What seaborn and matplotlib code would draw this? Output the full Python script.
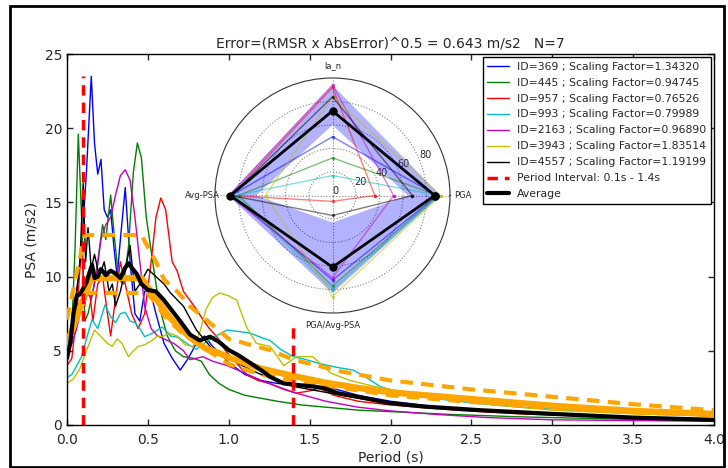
import numpy as np
import matplotlib
matplotlib.use("Agg")
import matplotlib.pyplot as plt
import seaborn as sns
from matplotlib.patches import Rectangle

# ---------------- data ----------------
rec_ids = ["369", "445", "957", "993", "2163", "3943", "4557"]
rec_factors = ["1.34320", "0.94745", "0.76526", "0.79989", "0.96890", "1.83514", "1.19199"]
rec_colors = ["#0000ff", "#008000", "#ff0000", "#00bfbf", "#bf00bf", "#bfbf00", "#000000"]

t_369 = [0, 0.03, 0.06, 0.09, 0.12, 0.15, 0.17, 0.19, 0.21, 0.23, 0.25, 0.27, 0.29, 0.31, 0.33,
         0.36, 0.39, 0.42, 0.45, 0.48, 0.51, 0.55, 0.6, 0.65, 0.7, 0.75, 0.8, 0.85, 0.9, 0.95,
         1.0, 1.1, 1.2, 1.3, 1.4, 1.5, 1.6, 1.7, 1.8, 2.0, 2.3, 2.6, 3.0, 3.5, 4.0]
psa_369 = [5.8, 6.5, 9.0, 12.0, 17.0, 23.5, 19.0, 16.9, 17.9, 14.5, 14.0, 14.5, 12.0, 10.0, 12.5,
           16.0, 11.0, 7.5, 7.0, 9.0, 9.2, 7.5, 5.5, 4.5, 3.7, 4.5, 5.5, 6.0, 5.3, 4.8,
           4.2, 3.4, 3.0, 2.8, 2.7, 2.6, 2.6, 2.3, 2.0, 1.6, 1.2, 0.9, 0.7, 0.5, 0.4]

t_445 = [0, 0.03, 0.05, 0.07, 0.09, 0.11, 0.13, 0.16, 0.19, 0.22, 0.24, 0.27, 0.29, 0.32, 0.35,
         0.38, 0.41, 0.435, 0.46, 0.49, 0.53, 0.57, 0.62, 0.67, 0.72, 0.78, 0.83, 0.88, 0.94, 1.0,
         1.1, 1.2, 1.3, 1.45, 1.6, 1.8, 2.0, 2.4, 2.8, 3.2, 3.6, 4.0]
psa_445 = [5.0, 6.5, 12.0, 19.6, 14.0, 7.0, 7.5, 9.0, 11.0, 13.5, 12.5, 15.5, 13.0, 9.8, 9.5,
           12.0, 17.0, 19.0, 18.0, 14.0, 11.0, 8.0, 6.0, 5.0, 4.6, 4.5, 4.3, 3.4, 2.8, 2.4,
           2.0, 1.8, 1.6, 1.35, 1.2, 1.0, 0.9, 0.7, 0.55, 0.45, 0.35, 0.3]

t_957 = [0, 0.03, 0.06, 0.09, 0.11, 0.13, 0.16, 0.19, 0.22, 0.25, 0.27, 0.3, 0.33, 0.36, 0.4,
         0.44, 0.48, 0.52, 0.55, 0.58, 0.61, 0.65, 0.68, 0.72, 0.76, 0.8, 0.84, 0.88, 0.93, 0.98,
         1.03, 1.11, 1.18, 1.25, 1.34, 1.42, 1.5, 1.56, 1.65, 1.8, 2.0, 2.4, 2.8, 3.2, 3.6, 4.0]
psa_957 = [4.0, 4.5, 7.5, 12.0, 8.0, 10.0, 7.0, 9.5, 10.0, 7.5, 6.0, 8.5, 11.0, 9.5, 7.5,
           6.5, 7.5, 11.0, 14.0, 15.3, 14.5, 11.0, 10.4, 9.0, 8.4, 7.8, 7.1, 6.5, 5.9, 5.0,
           4.4, 3.4, 3.0, 2.8, 2.4, 2.15, 2.3, 2.5, 2.0, 1.6, 1.35, 1.0, 0.75, 0.6, 0.5, 0.4]

t_993 = [0, 0.03, 0.06, 0.09, 0.12, 0.155, 0.19, 0.235, 0.27, 0.3, 0.33, 0.36, 0.39, 0.42, 0.45,
         0.48, 0.53, 0.59, 0.64, 0.69, 0.74, 0.8, 0.86, 0.92, 0.99, 1.06, 1.13, 1.2, 1.255, 1.32,
         1.4, 1.48, 1.56, 1.66, 1.77, 1.85, 1.935, 2.05, 2.18, 2.5, 2.8, 3.2, 3.6, 4.0]
psa_993 = [3.2, 3.4, 4.0, 4.6, 5.8, 7.1, 6.5, 8.1, 7.3, 6.9, 7.5, 7.6, 7.0, 6.9, 6.5,
           5.95, 6.2, 6.6, 6.0, 5.9, 5.5, 5.1, 5.6, 6.0, 6.4, 6.3, 6.2, 5.9, 5.7, 5.1,
           4.6, 4.4, 4.15, 3.9, 3.7, 3.2, 2.6, 2.2, 1.9, 1.5, 1.2, 0.95, 0.75, 0.6]

t_2163 = [0, 0.03, 0.06, 0.09, 0.12, 0.15, 0.18, 0.21, 0.24, 0.27, 0.3, 0.33, 0.36, 0.39, 0.42,
          0.45, 0.48, 0.52, 0.56, 0.6, 0.66, 0.72, 0.76, 0.8, 0.84, 0.9, 0.99, 1.1, 1.2, 1.3,
          1.4, 1.5, 1.6, 1.8, 2.0, 2.3, 2.6, 3.0, 3.5, 4.0]
psa_2163 = [5.0, 5.5, 6.5, 8.0, 9.0, 8.5, 10.0, 12.5, 13.5, 14.0, 15.5, 16.8, 17.2, 16.5, 14.0,
            11.0, 8.0, 6.5, 6.0, 5.8, 5.5, 5.0, 4.4, 4.5, 4.6, 4.3, 4.0, 3.5, 3.0, 2.6,
            2.2, 1.9, 1.6, 1.2, 0.95, 0.7, 0.5, 0.35, 0.3, 0.25]

t_3943 = [0, 0.04, 0.08, 0.12, 0.17, 0.21, 0.25, 0.28, 0.31, 0.34, 0.38, 0.41, 0.44, 0.48, 0.525,
          0.56, 0.59, 0.63, 0.68, 0.73, 0.78, 0.82, 0.86, 0.9, 0.945, 1.0, 1.05, 1.11, 1.17, 1.255,
          1.34, 1.42, 1.52, 1.63, 1.75, 1.9, 2.05, 2.3, 2.6, 3.0, 3.5, 4.0]
psa_3943 = [2.8, 3.1, 3.8, 5.0, 6.4, 5.95, 5.5, 5.3, 5.8, 5.5, 4.6, 5.0, 5.3, 5.4, 5.7,
            6.0, 5.95, 6.2, 6.0, 5.4, 5.3, 6.2, 7.8, 8.6, 8.9, 8.7, 8.4, 6.6, 5.5, 5.3,
            4.0, 4.6, 4.6, 3.5, 3.0, 2.6, 2.3, 1.8, 1.4, 1.0, 0.75, 0.6]

t_4557 = [0, 0.03, 0.06, 0.08, 0.1, 0.115, 0.13, 0.15, 0.17, 0.2, 0.23, 0.26, 0.28, 0.3, 0.33,
          0.36, 0.39, 0.42, 0.45, 0.5, 0.55, 0.6, 0.64, 0.72, 0.8, 0.9, 1.0, 1.1, 1.2, 1.3,
          1.4, 1.5, 1.6, 1.8, 2.0, 2.3, 2.6, 3.0, 3.5, 4.0]
psa_4557 = [4.8, 6.5, 9.0, 11.0, 16.3, 11.0, 13.3, 10.5, 11.5, 10.0, 11.0, 9.0, 9.5, 8.0, 9.0,
            10.5, 12.1, 9.0, 9.5, 10.5, 10.0, 9.5, 8.9, 8.0, 6.4, 5.1, 4.5, 3.9, 3.4, 3.0,
            2.6, 2.4, 2.2, 1.8, 1.5, 1.2, 0.95, 0.7, 0.5, 0.4]

t_avg = [0, 0.02, 0.04, 0.06, 0.08, 0.1, 0.12, 0.14, 0.155, 0.17, 0.19, 0.21, 0.24, 0.27, 0.3,
         0.33, 0.36, 0.38, 0.4, 0.43, 0.46, 0.5, 0.55, 0.6, 0.65, 0.7, 0.76, 0.82, 0.885, 0.94,
         1.0, 1.06, 1.13, 1.2, 1.255, 1.34, 1.42, 1.52, 1.6, 1.67, 1.8, 1.98, 2.2, 2.55, 3.0,
         3.5, 4.0]
psa_avg = [4.5, 5.5, 7.5, 8.7, 8.8, 9.2, 9.6, 10.3, 10.8, 9.9, 10.0, 10.5, 10.1, 10.4, 10.2,
           9.9, 10.6, 10.9, 10.6, 10.2, 9.5, 9.1, 9.0, 8.4, 7.7, 7.0, 6.1, 5.7, 5.95, 5.6,
           5.05, 4.7, 4.2, 3.7, 3.25, 2.8, 2.7, 2.6, 2.45, 2.15, 1.9, 1.5, 1.25, 1.0, 0.75,
           0.5, 0.35]

# target spectrum and its tolerance band
t_target = [0, 0.15, 0.46, 0.55, 0.64, 0.75, 0.85, 0.95, 1.0, 1.2, 1.4, 1.6, 1.8, 2.0, 2.5, 3.0, 3.5, 4.0]
psa_target = [5.5, 9.9, 9.9, 8.5, 7.2, 6.0, 5.2, 4.8, 4.55, 3.8, 3.3, 2.85, 2.5, 2.2, 1.75, 1.3, 0.95, 0.75]
t_upper = [0, 0.11, 0.46, 0.55, 0.6, 0.69, 0.76, 0.86, 1.0, 1.255, 1.4, 1.7, 2.0, 2.5, 3.0, 3.5, 4.0]
psa_upper = [7.1, 12.8, 12.8, 11.0, 9.8, 8.9, 8.0, 7.1, 5.8, 5.05, 4.4, 3.6, 3.0, 2.4, 1.9, 1.4, 1.0]
t_lower = [0, 0.1, 0.5, 0.6, 0.7, 0.8, 0.9, 1.0, 1.2, 1.4, 1.7, 2.0, 2.5, 3.0, 3.5, 4.0]
psa_lower = [4.9, 8.9, 8.9, 7.4, 6.3, 5.5, 4.8, 4.1, 3.4, 3.0, 2.5, 2.0, 1.55, 1.15, 0.85, 0.68]

interval_bounds = [0.1, 1.4]
interval_tops = [23.5, 6.9]

# radar inset: PGA, la_n, Avg-PSA, PGA/Avg-PSA
radar_labels = ["PGA", "la_n", "Avg-PSA", "PGA/Avg-PSA"]
radar_369 = [89, 50, 86, 72]
radar_445 = [90, 32, 80, 77]
radar_957 = [36, 92, 86, 5]
radar_993 = [91, 17, 82, 80]
radar_2163 = [52, 94, 88, 70]
radar_3943 = [92, 84, 57, 86]
radar_4557 = [68, 84, 86, 17]
radar_avg = [87, 72, 87, 61]
radar_upper = [92, 94, 89, 83]
radar_lower = [64, 60, 65, 23]

# ---------------- figure ----------------
sns.set_theme(style="ticks", rc={
    "xtick.direction": "in", "ytick.direction": "in",
    "xtick.top": True, "ytick.right": True,
    "xtick.major.size": 4, "ytick.major.size": 4,
    "axes.edgecolor": "black", "axes.linewidth": 1.0,
})
plt.rcParams["font.family"] = ["DejaVu Sans"]

fig = plt.figure(figsize=(7.28, 4.68), dpi=100)
ax = fig.add_axes([67 / 728, 1 - 425 / 468, 647 / 728, 371 / 468])

records = [(t_369, psa_369), (t_445, psa_445), (t_957, psa_957), (t_993, psa_993),
           (t_2163, psa_2163), (t_3943, psa_3943), (t_4557, psa_4557)]
for (t, psa), rid, fac, col in zip(records, rec_ids, rec_factors, rec_colors):
    sns.lineplot(x=t, y=psa, ax=ax, color=col, lw=1.0, estimator=None, sort=False,
                 label=f"ID={rid} ; Scaling Factor={fac}")

orange = "#ffa500"
sns.lineplot(x=t_upper, y=psa_upper, ax=ax, color=orange, lw=3, estimator=None,
             linestyle=(0, (3, 2)), zorder=3)
sns.lineplot(x=t_lower, y=psa_lower, ax=ax, color=orange, lw=3, estimator=None,
             linestyle=(0, (3, 2)), zorder=3)
sns.lineplot(x=t_target, y=psa_target, ax=ax, color=orange, lw=4.5, estimator=None, zorder=3)

for i, (b, top) in enumerate(zip(interval_bounds, interval_tops)):
    ax.plot([b, b], [0, top], color="red", lw=2.5, linestyle=(0, (3, 2)), zorder=5,
            label="Period Interval: 0.1s - 1.4s" if i == 0 else None)

sns.lineplot(x=t_avg, y=psa_avg, ax=ax, color="black", lw=3, estimator=None, zorder=4,
             label="Average")

ax.set_xlim(0, 4)
ax.set_ylim(0, 25)
ax.set_xticks(np.arange(0, 4.01, 0.5))
ax.set_yticks(np.arange(0, 26, 5))
ax.tick_params(labelsize=10, width=1)
ax.tick_params(axis="x", pad=6)
ax.set_xlabel("Period (s)", fontsize=10, labelpad=2)
ax.set_ylabel("PSA (m/s2)", fontsize=10)
ax.set_title("Error=(RMSR x AbsError)^0.5 = 0.643 m/s2   N=7", fontsize=10, pad=5)

handles, labels = ax.get_legend_handles_labels()
order = [labels.index(f"ID={r} ; Scaling Factor={f}") for r, f in zip(rec_ids, rec_factors)]
order += [labels.index("Period Interval: 0.1s - 1.4s"), labels.index("Average")]
leg = ax.legend([handles[i] for i in order], [labels[i] for i in order], loc="upper right",
                fontsize=7.8, frameon=True, fancybox=False, edgecolor="black",
                framealpha=1, borderaxespad=0.3, labelspacing=0.55, handlelength=2.0)
leg.get_frame().set_linewidth(1.0)

# ---------------- radar inset ----------------
pax = fig.add_axes([215 / 728, 1 - 313 / 468, 235 / 728, 235 / 468], projection="polar")
pax.set_facecolor("none")
theta = np.linspace(0, 2 * np.pi, 5)
closed = lambda v: list(v) + [v[0]]

ring_theta = np.concatenate([theta, theta[::-1]])
ring_r = np.concatenate([closed(radar_upper), closed(radar_lower)[::-1]])
pax.fill(ring_theta, ring_r, color="blue", alpha=0.3, lw=0)

radars = [radar_369, radar_445, radar_957, radar_993, radar_2163, radar_3943, radar_4557]
for vals, col in zip(radars, rec_colors):
    pax.plot(theta, closed(vals), color=col, lw=1.0, alpha=0.5, marker=".", ms=3)
pax.plot(theta, closed(radar_avg), color="black", lw=2, marker="o", ms=5)

pax.set_ylim(0, 100)
pax.set_yticks([0, 20, 40, 60, 80])
pax.set_yticklabels(["0", "20", "40", "60", "80"], fontsize=7)
pax.set_rlabel_position(22.5)
pax.set_thetagrids([0, 90, 180, 270], radar_labels, fontsize=6)
pax.tick_params(axis="x", pad=2)
pax.grid(True, color="gray", linestyle=":", lw=0.8)
pax.spines["polar"].set_linewidth(0.8)
pax.spines["polar"].set_color("#333333")

# outer frame around the figure
fig.patches.append(Rectangle((10 / 728, 1 / 468), 714 / 728, 461 / 468, transform=fig.transFigure,
                             fill=False, edgecolor="black", lw=2))

fig.savefig("out.png", dpi=100)
